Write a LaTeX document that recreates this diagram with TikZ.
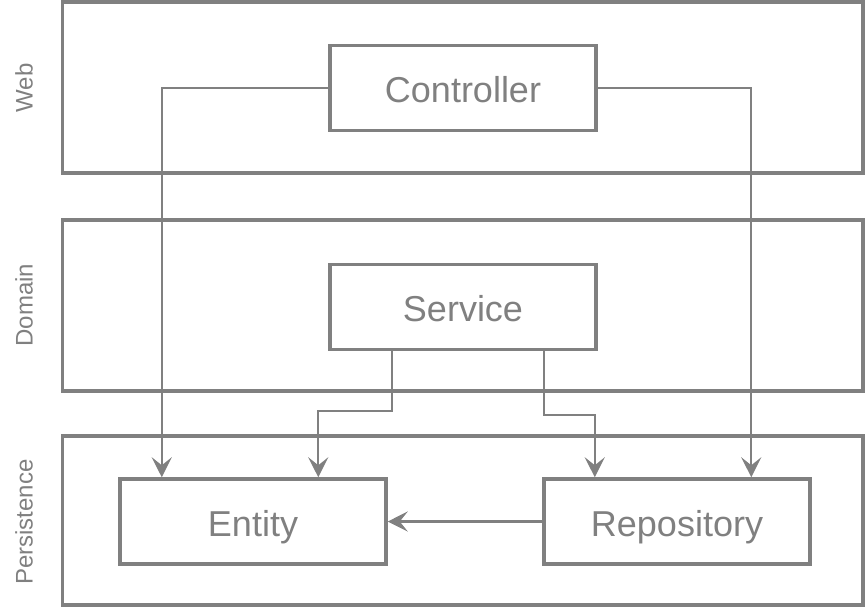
\documentclass[tikz,border=0pt]{standalone}
\usepackage{fontspec}
\setmainfont{Liberation Sans}
\usetikzlibrary{
    arrows.meta
}

\tikzset{
    layer/.style={draw=gray, line width=2.6pt, minimum width=600.4pt, minimum height=128.25pt},
    part/.style={draw=gray, line width=2.6pt, minimum width=199.5pt, minimum height=63.75pt,
        text=gray, font=\fontsize{27}{32}\selectfont, text height=24pt, text depth=2pt},
    tag/.style={rotate=90, text=gray, font=\fontsize{18}{22}\selectfont},
    conn/.style={draw=gray, line width=1.8pt, -{Stealth[length=15pt, width=15pt, inset=6pt]}}
}

\begin{document}
\begin{tikzpicture}[x=0.75pt, y=-0.75pt]
    \useasboundingbox (0, 0) rectangle (866, 608);
    % layers
    \node[layer] (web) at (462.75, 87.5) {};
    \node[layer] (domain) at (462.75, 305.5) {};
    \node[layer, minimum height=126.75pt] (persistence) at (462.75, 520.5) {};
    \node[tag] (webtag) at (24, 88) {Web};
    \node[tag] (domaintag) at (24, 305) {Domain};
    \node[tag] (persistencetag) at (24, 522) {Persistence};
    % parts
    \node[part] (controller) at (463, 88) {Controller};
    \node[part] (service) at (463, 307) {Service};
    \node[part] (entity) at (253, 521.5) {Entity};
    \node[part] (repository) at (677, 521.5) {Repository};
    \draw[conn] (controller.west) -| ([shift={(43.5, 0)}]entity.north west);
    \draw[conn] (controller.east) -| ([shift={(209, 0)}]repository.north west);
    \draw[conn] ([shift={(-71, 0)}]service.south) -- ++(0, 60) -| ([shift={(200, 0)}]entity.north west);
    \draw[conn] ([shift={(81, 0)}]service.south) -- ++(0, 64) -| ([shift={(52.5, 0)}]repository.north west);
    \draw[conn] (repository.west) -- (entity.east);
\end{tikzpicture}
\end{document}
